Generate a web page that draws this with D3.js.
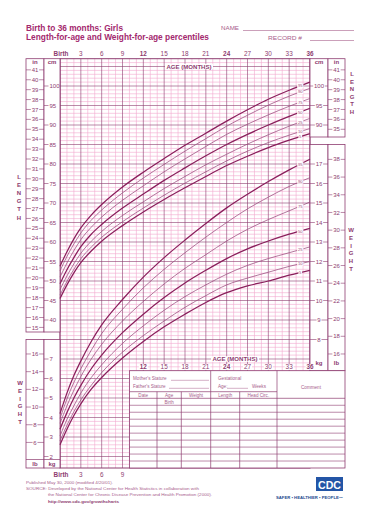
<!DOCTYPE html>
<html><head><meta charset="utf-8">
<script src="https://cdn.jsdelivr.net/npm/d3@7"></script>
<style>
body{margin:0;background:#fff}
svg{display:block}
text{font-family:"Liberation Sans",Arial,Helvetica,sans-serif}
</style>
</head><body>
<svg id="c" width="375" height="515"></svg>
<script>
// ---------------- DATA ----------------
const ages = [0,1,2,3,4.5,6,9,12,15,18,21,24,27,30,33,36];
const percentiles = [95,90,75,50,25,10,5];
// Length-for-age (cm)
const lengthP95 = [53.8,57.5,60.8,63.6,66.9,69.6,74.1,77.9,81.4,84.8,87.9,91.0,93.9,96.6,98.9,101.0];
const lengthP90 = [52.6,56.3,59.5,62.3,65.6,68.2,72.6,76.4,79.9,83.3,86.5,89.7,92.5,95.1,97.4,99.4];
const lengthP75 = [51.0,54.6,57.8,60.6,63.8,66.4,70.7,74.4,78.0,81.3,84.5,87.6,90.2,92.6,94.8,96.8];
const lengthP50 = [49.3,52.9,56.0,58.8,62.0,64.5,68.7,72.3,75.8,79.0,82.1,85.0,87.6,90.0,92.2,94.3];
const lengthP25 = [47.8,51.3,54.4,57.1,60.2,62.7,66.8,70.3,73.7,76.8,79.8,82.5,85.1,87.5,89.7,91.7];
const lengthP10 = [46.4,49.9,53.0,55.7,58.7,61.2,65.2,68.7,72.0,75.1,78.0,80.8,83.3,85.5,87.4,89.1];
const lengthP5  = [45.5,49.0,52.1,54.7,57.7,60.2,64.2,67.7,70.9,73.9,76.8,79.6,82.0,84.2,86.1,87.8];
// Weight-for-age (kg)
const weightP95 = [4.2,5.25,6.15,6.9,7.9,8.75,10.05,11.2,12.2,13.1,13.95,14.75,15.45,16.1,16.7,17.25];
const weightP90 = [3.95,4.95,5.8,6.5,7.45,8.3,9.55,10.65,11.6,12.45,13.25,14.0,14.7,15.3,15.85,16.3];
const weightP75 = [3.7,4.6,5.4,6.1,7.0,7.75,8.95,9.95,10.85,11.65,12.35,13.05,13.65,14.15,14.6,15.05];
const weightP50 = [3.4,4.25,5.0,5.65,6.5,7.2,8.35,9.3,10.15,10.9,11.55,12.15,12.65,13.05,13.4,13.7];
const weightP25 = [3.05,3.9,4.6,5.25,6.05,6.7,7.8,8.7,9.5,10.2,10.8,11.35,11.8,12.15,12.45,12.75];
const weightP10 = [2.8,3.6,4.3,4.9,5.65,6.3,7.35,8.2,8.95,9.65,10.25,10.8,11.15,11.45,11.75,12.0];
const weightP5  = [2.6,3.4,4.1,4.7,5.45,6.05,7.05,7.9,8.65,9.3,9.9,10.4,10.75,11.0,11.3,11.55];

const topAgeTicks = [0,3,6,9,12,15,18,21,24,27,30,33,36];
const topAgeLabels = ["Birth","3","6","9","12","15","18","21","24","27","30","33","36"];
const boldAgeLabels = ["Birth","12","24","36"];
const lowerAgeTicks = [12,15,18,21,24,27,30,33,36];
const lowerAgeLabels = ["12","15","18","21","24","27","30","33","36"];
const bottomAgeTicks = [0,3,6,9];
const bottomAgeLabels = ["Birth","3","6","9"];
const leftInches = d3.range(15,42);
const leftCm = d3.range(40,101,5);
const rightInches = d3.range(35,42);
const rightCm = [90,95,100];
const rightKg = d3.range(8,18);
const rightLb = d3.range(16,39,2);
const leftKg = d3.range(2,8);
const leftLb = d3.range(6,17,2);
const tableHeaders = ["Date","Age","Weight","Length","Head Circ."];
const footerLines = [
  "Published May 30, 2000 (modified 4/20/01).",
  "SOURCE: Developed by the National Center for Health Statistics in collaboration with",
  "the National Center for Chronic Disease Prevention and Health Promotion (2000).",
  "http://www.cdc.gov/growthcharts"
];

// ---------------- SETUP ----------------
const C = {mag:"#a3286e", line:"#8e3c70", minor:"#f2a8cf", curve:"#8a1f5c", thin:"#9a4a7c", txt:"#8e3c70", light:"#a8608c"};
const svg = d3.select("#c");
const x = d3.scaleLinear().domain([0,36]).range([60,310]);
const yL = d3.scaleLinear().domain([100,80]).range([86,164]);
const yW = d3.scaleLinear().domain([17,2]).range([164,456.5]);
const plotTop = yL(107), plotBottom = 468;
const CM_PER_IN = 2.54, LB_PER_KG = 2.20462;

function txt(g, s, px, py, opt={}) {
  const t = g.append("text").attr("x",px).attr("y",py).text(s)
    .attr("font-size",opt.size||6).attr("fill",opt.fill||C.txt)
    .attr("font-weight",opt.bold?"bold":"normal")
    .attr("text-anchor",opt.anchor||"start");
  if (opt.len) t.attr("textLength",opt.len).attr("lengthAdjust","spacingAndGlyphs");
  return t;
}
function hline(g,x1,x2,y,opt={}) {
  return g.append("line").attr("x1",x1).attr("x2",x2).attr("y1",y).attr("y2",y)
    .attr("stroke",opt.stroke||C.line).attr("stroke-width",opt.w||0.7);
}
function vline(g,xx,y1,y2,opt={}) {
  return g.append("line").attr("x1",xx).attr("x2",xx).attr("y1",y1).attr("y2",y2)
    .attr("stroke",opt.stroke||C.line).attr("stroke-width",opt.w||0.7);
}

// ---------------- HEADER ----------------
const head = svg.append("g");
txt(head,"Birth to 36 months: Girls",26,30.5,{size:8.4,bold:true,fill:C.mag,len:97});
txt(head,"Length-for-age and Weight-for-age percentiles",26,39.5,{size:8.4,bold:true,fill:C.mag,len:183});
txt(head,"NAME",221,30,{size:5.2,fill:C.light,len:18});
hline(head,243,354,30.5,{stroke:C.light,w:0.6});
txt(head,"RECORD #",268,40,{size:5.2,fill:C.light,len:34});
hline(head,310,354,40.5,{stroke:C.light,w:0.6});

topAgeTicks.forEach((a,i)=>{
  const lab = topAgeLabels[i];
  txt(head,lab,x(a)+(i===0?1:0),55.5,{size:6.4,bold:boldAgeLabels.includes(lab),anchor:"middle",fill:C.line});
});

// ---------------- GRID ----------------
const grid = svg.append("g");
const months = d3.range(0,37);
const cms = d3.range(3,107);
grid.selectAll(".vmin").data(months.filter(m=>m%3)).join("line")
  .attr("x1",d=>x(d)).attr("x2",d=>x(d)).attr("y1",plotTop).attr("y2",plotBottom)
  .attr("stroke",C.minor).attr("stroke-width",0.6);
grid.selectAll(".hmin").data(cms.filter(c=>c%5)).join("line")
  .attr("x1",x(0)).attr("x2",x(36)).attr("y1",d=>yL(d)).attr("y2",d=>yL(d))
  .attr("stroke",C.minor).attr("stroke-width",0.6);
grid.selectAll(".vmaj").data(months.filter(m=>m%3===0)).join("line")
  .attr("x1",d=>x(d)).attr("x2",d=>x(d)).attr("y1",plotTop).attr("y2",plotBottom)
  .attr("stroke",C.line).attr("stroke-width",0.7).attr("opacity",0.85);
grid.selectAll(".hmaj").data(cms.filter(c=>c%5===0)).join("line")
  .attr("x1",x(0)).attr("x2",x(36)).attr("y1",d=>yL(d)).attr("y2",d=>yL(d))
  .attr("stroke",C.line).attr("stroke-width",0.7).attr("opacity",0.85);
grid.append("rect").attr("x",x(0)).attr("y",plotTop).attr("width",x(36)-x(0)).attr("height",plotBottom-plotTop)
  .attr("fill","none").attr("stroke",C.line).attr("stroke-width",1);

// ---------------- SIDE COLUMNS ----------------
const side = svg.append("g");
function boxRect(x1,y1,x2,y2){ side.append("rect").attr("x",x1).attr("y",y1).attr("width",x2-x1).attr("height",y2-y1).attr("fill","#fff").attr("stroke",C.line).attr("stroke-width",0.8); }
// left length box
boxRect(26,plotTop,44,332); boxRect(44,plotTop,60,332);
// left weight box
boxRect(26,yW(8),44,plotBottom); boxRect(44,yW(8),60,plotBottom);
hline(side,26,60,459.5);
// right length box
boxRect(310,plotTop,328,137); boxRect(328,plotTop,345,137);
// right weight box
boxRect(310,yW(18),328,yW(6.4)); boxRect(328,yW(18),345,yW(6.4));

function centeredTicks(vals, yf, x1, x2, labelFn) {
  const cx = (x1+x2)/2;
  vals.forEach(v=>{
    const yy = yf(v);
    hline(side,x1,x2,yy,{w:0.6});
    const s = labelFn(v);
    const wdt = s.length*3.4+1.5;
    side.append("rect").attr("x",cx-wdt/2).attr("y",yy-2.8).attr("width",wdt).attr("height",5.6).attr("fill","#fff");
    txt(side,s,cx,yy+2.1,{size:6,anchor:"middle"});
  });
}
function leftTicks(vals, yf, x1, labelFn) {
  vals.forEach(v=>{
    const yy = yf(v);
    hline(side,x1,x1+4.5,yy,{w:0.6});
    txt(side,labelFn(v),x1+5.5,yy+2.1,{size:6});
  });
}
centeredTicks(leftInches, i=>yL(i*CM_PER_IN), 26, 44, String);
leftTicks(leftCm, yL, 44, String);
centeredTicks(rightInches, i=>yL(i*CM_PER_IN), 328, 345, String);
centeredTicks(rightCm, yL, 310, 328, String);
centeredTicks(rightKg, yW, 310, 328, String);
centeredTicks(rightLb, l=>yW(l/LB_PER_KG), 328, 345, String);
leftTicks(leftKg, yW, 44, String);
centeredTicks(leftLb, l=>yW(l/LB_PER_KG), 26, 44, String);

txt(side,"in",35,64,{size:6,bold:true,anchor:"middle"});
txt(side,"cm",52,64,{size:6,bold:true,anchor:"middle"});
txt(side,"cm",319,64,{size:6,bold:true,anchor:"middle"});
txt(side,"in",336.5,64,{size:6,bold:true,anchor:"middle"});
txt(side,"lb",35,465.5,{size:6,bold:true,anchor:"middle"});
txt(side,"kg",52,465.5,{size:6,bold:true,anchor:"middle"});
txt(side,"kg",319,364.5,{size:6,bold:true,anchor:"middle"});
txt(side,"lb",336.5,364.5,{size:6,bold:true,anchor:"middle"});

function vertWord(word, cx, y0, step) {
  word.split("").forEach((ch,i)=>txt(side,ch,cx,y0+i*step,{size:6,bold:true,anchor:"middle",fill:C.line}));
}
vertWord("LENGTH",19,179,8.1);
vertWord("WEIGHT",20,385,7.8);
vertWord("LENGTH",352,76,7.6);
vertWord("WEIGHT",351,232,7.8);

// ---------------- AXIS LABELS INSIDE GRID ----------------
const inner = svg.append("g");
function labelOnGrid(s, cx, cy, opt={}) {
  const size = opt.size||6.4;
  const wdt = opt.w || s.length*size*0.58+2;
  inner.append("rect").attr("x",cx-wdt/2).attr("y",cy-size*0.45).attr("width",wdt).attr("height",size*0.9).attr("fill","#fff");
  txt(inner,s,cx,cy+size*0.36,{size,bold:opt.bold,anchor:"middle",fill:C.line,len:opt.len});
}
labelOnGrid("AGE (MONTHS)",189,yL(105),{size:6,bold:true,len:45,w:48});
labelOnGrid("AGE (MONTHS)",235,yW(7),{size:6,bold:true,len:45,w:48});
lowerAgeTicks.forEach((a,i)=>{
  const lab = lowerAgeLabels[i];
  labelOnGrid(lab,x(a),367,{size:6.4,bold:boldAgeLabels.includes(lab),w:9});
});
bottomAgeTicks.forEach((a,i)=>{
  const lab = bottomAgeLabels[i];
  txt(inner,lab,x(a)+(i===0?1:0),476.5,{size:6.4,bold:lab==="Birth",anchor:"middle",fill:C.line});
});

// ---------------- CURVES ----------------
const curves = svg.append("g");
const line = d3.line().x(d=>x(d[0])).y(d=>d[1]).curve(d3.curveMonotoneX);
const lengthSeries = [lengthP95,lengthP90,lengthP75,lengthP50,lengthP25,lengthP10,lengthP5];
const weightSeries = [weightP95,weightP90,weightP75,weightP50,weightP25,weightP10,weightP5];
const labelAge = 34.6;
function drawSet(series, yf) {
  series.forEach((vals,i)=>{
    const p = percentiles[i];
    const thick = (p===95||p===50||p===5);
    curves.append("path").attr("d",line(ages.map((a,j)=>[a,yf(vals[j])])))
      .attr("fill","none").attr("stroke",thick?C.curve:C.thin).attr("stroke-width",thick?1.25:0.75);
  });
  series.forEach((vals,i)=>{
    const n = vals.length;
    const v = vals[n-2] + (vals[n-1]-vals[n-2])*(labelAge-ages[n-2])/(ages[n-1]-ages[n-2]);
    const cx = x(labelAge), cy = yf(v);
    const s = String(percentiles[i]);
    const wdt = s.length*2.6+1;
    curves.append("rect").attr("x",cx-wdt/2).attr("y",cy-2).attr("width",wdt).attr("height",4).attr("fill","#fff");
    txt(curves,s,cx,cy+1.5,{size:4.2,anchor:"middle",fill:C.thin});
  });
}
drawSet(lengthSeries, yL);
drawSet(weightSeries, yW);

// ---------------- TABLE ----------------
const tb = svg.append("g");
const TL = x(10), TR = 345, TT = yW(6.4), TB = plotBottom;
tb.append("rect").attr("x",TL).attr("y",TT).attr("width",TR-TL).attr("height",TB-TT)
  .attr("fill","#fff").attr("stroke",C.line).attr("stroke-width",0.8);
const tcol = [157,181.3,210.7,239.7,277];
const headTop = 391.7, headBot = 398.3;
const rowH = (TB-headBot)/10;
vline(tb,210.7,TT,TB); vline(tb,277,TT,TB);
hline(tb,TL,277,headTop);
hline(tb,TL,TR,headBot);
[157,181.3,239.7].forEach(c=>vline(tb,c,headTop,TB));
d3.range(1,10).forEach(r=>hline(tb,TL,TR,headBot+r*rowH,{w:0.6}));
const tsz = 4.6, tf = C.light;
txt(tb,"Mother's Stature",133,380,{size:tsz,fill:tf});
hline(tb,171,209,380.3,{w:0.5,stroke:tf});
txt(tb,"Father's Stature",133,388,{size:tsz,fill:tf});
hline(tb,169,209,388.3,{w:0.5,stroke:tf});
txt(tb,"Gestational",218,380,{size:tsz,fill:tf});
txt(tb,"Age:",218,388,{size:tsz,fill:tf});
hline(tb,227,248,388.3,{w:0.5,stroke:tf});
txt(tb,"Weeks",252,388,{size:tsz,fill:tf});
txt(tb,"Comment",311,388.5,{size:tsz,fill:tf,anchor:"middle"});
const colEdges = [TL].concat(tcol);
tableHeaders.forEach((h,i)=>{
  txt(tb,h,(colEdges[i]+colEdges[i+1])/2,396.8,{size:tsz,fill:tf,anchor:"middle"});
});
txt(tb,"Birth",(157+181.3)/2,404,{size:tsz,fill:tf,anchor:"middle"});

// ---------------- FOOTER ----------------
const ft = svg.append("g");
txt(ft,footerLines[0],26,484,{size:4.4,fill:C.light,len:87});
txt(ft,footerLines[1],26,490,{size:4.4,fill:C.light,len:173});
txt(ft,footerLines[2],48,496,{size:4.4,fill:C.light,len:164});
txt(ft,footerLines[3],48,502.5,{size:4.4,fill:C.txt,bold:true,len:71});
ft.append("rect").attr("x",316).attr("y",477).attr("width",27).attr("height",14).attr("fill","#2355a6");
txt(ft,"CDC",329.5,488.6,{size:11,bold:true,fill:"#fff",anchor:"middle",len:23});
txt(ft,"SAFER \u2022 HEALTHIER \u2022 PEOPLE\u2122",276,498.5,{size:3.4,bold:true,fill:"#234a8e",len:67});
</script>
</body></html>
